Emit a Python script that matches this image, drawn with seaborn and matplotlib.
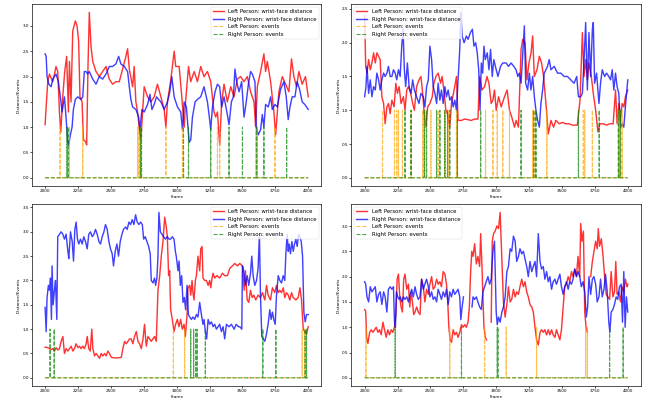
import numpy as np
import pandas as pd
import matplotlib
matplotlib.use("Agg")
import matplotlib.pyplot as plt
import seaborn as sns

nan = float("nan")

# ---------------- data (frame, value) ----------------
P1_LEFT = [(2000,1.05),(2008,1.4),(2020,1.9),(2033,2.05),(2058,1.9),(2071,2.05),(2083,2.2),(2096,2.1),(2109,1.3),(2119,0.9),(2134,1.6),(2149,2.1),(2164,2.4),(2177,1.3),(2185,2.3),(2197,1.5),(2210,2.9),(2230,3.1),(2243,3.0),(2255,2.7),(2265,1.6),(2281,1.5),(2291,0.75),(2306,0.72),(2316,0.65),(2326,2.2),(2336,3.27),(2349,2.6),(2362,2.3),(2387,2.1),(2412,2.0),(2437,2.1),(2463,2.2),(2488,1.95),(2513,1.85),(2538,1.9),(2564,1.9),(2589,2.15),(2614,2.4),(2627,2.55),(2640,2.15),(2665,1.8),(2677,2.2),(2690,1.5),(2703,1.3),(2715,1.0),(2728,0.75),(2741,1.3),(2753,1.8),(2766,1.7),(2779,1.6),(2804,1.5),(2829,1.6),(2854,1.85),(2880,1.6),(2905,1.35),(2918,1.0),(2930,1.5),(2956,1.95),(2981,2.5),(2993,2.2),(3019,2.2),(3039,1.6),(3057,1.0),(3069,1.55),(3090,2.2),(3107,1.9),(3133,2.1),(3158,1.9),(3183,2.2),(3208,2.0),(3234,2.1),(3259,1.9),(3284,1.3),(3297,1.2),(3310,1.3),(3327,0.65),(3342,1.5),(3360,1.85),(3385,1.5),(3411,1.8),(3436,1.6),(3461,1.95),(3486,2.0),(3512,1.9),(3537,2.0),(3562,1.7),(3588,1.5),(3600,1.0),(3613,1.8),(3638,2.1),(3663,2.45),(3676,2.1),(3689,2.3),(3714,1.9),(3739,1.3),(3752,0.85),(3777,1.7),(3803,2.0),(3828,1.85),(3853,1.7),(3873,2.35),(3891,2.0),(3911,1.8),(3929,2.1),(3954,1.85),(3979,2.0),(4000,1.6)]
P1_RIGHT = [(2000,2.45),(2008,2.4),(2015,2.0),(2028,1.85),(2046,1.8),(2058,1.95),(2071,2.0),(2083,2.05),(2101,1.9),(2116,1.6),(2129,1.3),(2147,1.6),(2159,1.2),(2172,0.7),(2180,0.65),(2192,0.85),(2205,1.0),(2215,1.35),(2230,1.55),(2248,1.6),(2273,1.55),(2286,1.6),(2298,2.1),(2311,2.1),(2324,2.05),(2336,2.1),(2362,1.95),(2387,1.85),(2412,2.0),(2437,1.95),(2463,2.05),(2488,2.2),(2513,2.2),(2538,2.25),(2559,2.4),(2576,2.25),(2602,2.2),(2627,2.1),(2640,1.8),(2652,1.55),(2665,1.4),(2690,1.35),(2711,1.2),(2721,0.95),(2736,1.35),(2753,1.3),(2779,1.45),(2797,1.65),(2812,1.35),(2829,1.45),(2847,1.6),(2862,1.55),(2880,1.5),(2905,1.35),(2930,1.5),(2948,1.7),(2963,2.0),(2981,1.6),(3006,1.4),(3031,1.3),(3044,0.95),(3057,1.5),(3074,1.4),(3095,0.7),(3107,0.75),(3120,1.2),(3140,1.5),(3158,1.55),(3183,1.6),(3208,1.8),(3234,1.5),(3246,1.25),(3259,0.95),(3272,1.4),(3292,1.7),(3310,1.85),(3327,1.8),(3342,1.4),(3360,1.6),(3385,1.25),(3398,1.05),(3416,1.5),(3431,1.6),(3443,2.15),(3456,1.9),(3474,1.7),(3494,1.9),(3512,1.2),(3529,1.5),(3545,1.85),(3562,2.1),(3575,2.05),(3595,1.9),(3605,1.0),(3620,0.85),(3638,0.95),(3651,1.25),(3663,1.0),(3676,1.45),(3696,1.4),(3714,1.6),(3727,1.35),(3747,1.45),(3765,1.4),(3790,1.75),(3815,1.9),(3833,1.6),(3848,1.15),(3861,1.4),(3878,1.6),(3899,1.6),(3916,1.9),(3934,1.75),(3954,1.5),(3974,1.45),(4000,1.35)]
P1_LEFT_EVENTS = [2114, 2185, 2286, 2703, 2711, 2728, 2918, 3044, 3310, 3327, 3600, 3613, 3747]
P1_RIGHT_EVENTS = [2167, 2170, 2174, 2723, 2733, 3052, 3090, 3259, 3398, 3500, 3608, 3663, 3836]

P2_LEFT = [(2000,2.4),(2008,1.65),(2018,1.55),(2030,1.75),(2043,1.6),(2055,1.7),(2068,1.85),(2081,1.7),(2093,1.85),(2106,1.8),(2118,1.75),(2131,1.2),(2144,1.1),(2156,0.8),(2169,1.05),(2181,1.1),(2194,0.95),(2207,1.15),(2224,1.05),(2237,1.4),(2249,1.25),(2262,1.35),(2277,1.1),(2295,1.2),(2307,1.0),(2320,1.3),(2333,1.35),(2350,1.25),(2365,1.1),(2378,1.0),(2395,1.35),(2413,1.45),(2428,1.5),(2441,1.25),(2453,0.95),(2466,0.75),(2479,1.05),(2496,1.1),(2514,1.2),(2526,1.4),(2542,1.5),(2559,1.55),(2577,1.4),(2589,1.5),(2605,1.25),(2617,1.0),(2630,0.95),(2647,0.75),(2660,1.1),(2680,1.3),(2698,1.5),(2710,0.85),(2736,0.85),(2761,0.87),(2786,0.86),(2811,0.85),(2836,0.87),(2861,0.87),(2874,1.5),(2892,1.3),(2912,1.35),(2930,1.5),(2945,1.4),(2962,1.1),(2975,1.15),(2987,1.3),(3000,1.0),(3018,1.2),(3038,1.05),(3063,1.2),(3083,1.3),(3101,1.0),(3118,0.9),(3139,0.75),(3151,0.85),(3169,0.75),(3189,1.9),(3202,2.05),(3219,2.0),(3234,1.45),(3249,1.7),(3265,1.85),(3277,2.1),(3290,1.5),(3310,1.6),(3328,1.8),(3345,1.7),(3360,1.5),(3378,1.1),(3396,0.65),(3416,0.85),(3436,0.75),(3453,0.85),(3479,0.8),(3504,0.82),(3529,0.8),(3554,0.8),(3579,0.78),(3617,0.78),(3637,1.15),(3655,2.15),(3668,1.5),(3680,1.75),(3693,1.45),(3705,1.7),(3723,1.5),(3738,1.25),(3756,1.0),(3773,0.68),(3788,0.8),(3814,0.8),(3839,0.78),(3864,0.8),(3889,0.8),(3907,1.3),(3919,0.8),(3932,1.1),(3945,0.85),(3957,1.1),(3970,1.05),(3982,1.2),(4000,1.3)]
P2_RIGHT = [(2000,1.2),(2010,1.35),(2018,1.65),(2030,1.25),(2043,1.45),(2055,1.2),(2068,1.35),(2081,1.3),(2093,1.55),(2106,1.45),(2118,1.3),(2131,1.45),(2144,1.55),(2156,1.5),(2169,1.55),(2181,1.65),(2194,1.5),(2207,1.5),(2219,1.6),(2232,1.55),(2244,1.45),(2257,1.6),(2270,1.5),(2282,1.95),(2292,2.2),(2302,1.6),(2312,1.35),(2325,1.7),(2338,1.35),(2353,1.25),(2365,1.45),(2378,1.3),(2395,1.2),(2413,1.1),(2428,1.25),(2446,1.2),(2458,1.05),(2471,1.35),(2484,1.45),(2496,1.95),(2509,1.75),(2521,1.35),(2534,1.25),(2547,1.1),(2559,1.4),(2572,1.15),(2584,1.3),(2597,1.1),(2610,1.35),(2622,1.2),(2635,1.3),(2647,1.15),(2660,1.2),(2673,1.05),(2685,1.15),(2698,1.0),(2710,1.45),(2723,1.9),(2731,2.45),(2741,2.1),(2756,2.0),(2773,2.1),(2786,2.05),(2804,2.15),(2819,2.2),(2831,1.95),(2844,2.0),(2856,1.85),(2867,1.6),(2877,1.0),(2887,1.7),(2897,1.55),(2907,1.95),(2917,1.75),(2932,1.85),(2945,1.6),(2957,1.9),(2970,1.5),(2982,1.75),(3000,1.6),(3013,1.5),(3033,1.65),(3050,1.7),(3076,1.7),(3093,1.65),(3113,1.7),(3134,1.65),(3151,1.6),(3164,1.5),(3176,1.55),(3189,1.4),(3202,1.85),(3214,2.25),(3224,1.4),(3239,1.3),(3252,1.55),(3264,1.3),(3277,1.5),(3290,1.2),(3302,1.0),(3315,0.85),(3328,0.75),(3340,1.1),(3353,1.3),(3365,1.55),(3378,1.6),(3390,1.65),(3403,1.75),(3416,1.6),(3441,1.65),(3466,1.55),(3491,1.55),(3516,1.5),(3542,1.5),(3567,1.45),(3592,1.4),(3612,1.5),(3625,1.2),(3642,1.2),(3655,1.25),(3668,1.75),(3680,2.3),(3693,1.3),(3705,2.15),(3718,1.5),(3731,2.2),(3738,2.3),(3748,1.4),(3763,1.55),(3781,1.1),(3793,1.4),(3806,1.6),(3824,1.5),(3839,1.55),(3856,1.5),(3869,1.45),(3882,1.6),(3894,1.3),(3907,1.55),(3919,1.35),(3932,1.25),(3945,0.75),(3957,0.8),(3970,0.75),(3982,1.05),(4000,1.45)]
P2_LEFT_EVENTS = [2136, 2227, 2244, 2257, 2287, 2353, 2441, 2458, 2504, 2559, 2610, 2640, 2698, 2705, 2919, 2975, 3008, 3050, 3101, 3277, 3295, 3385, 3662, 3673, 3731, 3927, 3940, 3957]
P2_RIGHT_EVENTS = [2307, 2353, 2453, 2471, 2547, 2572, 2610, 2630, 2647, 2705, 2882, 3189, 3285, 3302, 3625, 3783, 3932, 3945]

P3_LEFT = [(2000,0.63),(2020,0.62),(2033,0.6),(2046,0.58),(2058,0.6),(2071,0.55),(2084,0.62),(2096,0.57),(2109,0.6),(2122,0.75),(2135,0.85),(2147,0.5),(2160,0.6),(2173,0.55),(2185,0.6),(2198,0.65),(2211,0.55),(2223,0.6),(2236,0.7),(2249,0.62),(2261,0.65),(2274,0.6),(2287,0.65),(2299,0.6),(2312,0.7),(2320,0.85),(2332,0.6),(2343,0.55),(2355,1.0),(2363,0.6),(2376,0.45),(2388,0.5),(2401,0.45),(2414,0.4),(2426,0.5),(2439,0.45),(2452,0.5),(2464,0.45),(2477,0.55),(2490,0.5),(2503,0.42),(2528,0.41),(2553,0.41),(2579,0.42),(2591,0.6),(2604,0.75),(2617,0.7),(2629,0.75),(2642,0.8),(2655,0.8),(2667,0.7),(2680,0.85),(2693,0.95),(2706,0.75),(2718,0.7),(2731,0.6),(2744,0.8),(2756,1.1),(2769,0.65),(2782,0.85),(2794,0.8),(2807,0.75),(2820,0.8),(2832,0.85),(2845,0.75),(2858,1.8),(2871,2.1),(2883,2.5),(2896,2.8),(2909,3.3),(2921,3.1),(2929,2.9),(2939,2.1),(2947,2.2),(2954,1.4),(2967,1.2),(2980,0.95),(2992,1.1),(3005,1.2),(3018,1.05),(3030,1.2),(3043,1.0),(3056,1.1),(3066,0.85),(3079,1.3),(3086,1.85),(3099,1.9),(3107,1.7),(3117,2.0),(3124,1.75),(3132,1.6),(3142,2.0),(3150,2.1),(3162,2.5),(3175,2.2),(3183,2.65),(3193,2.7),(3200,2.05),(3213,2.0),(3226,2.0),(3239,1.9),(3251,2.0),(3259,1.85),(3269,2.05),(3277,2.15),(3289,2.05),(3307,2.1),(3327,2.05),(3348,2.15),(3365,2.1),(3386,2.1),(3404,2.25),(3424,2.3),(3442,2.35),(3462,2.3),(3480,2.35),(3500,2.3),(3513,1.8),(3523,2.2),(3536,1.6),(3548,1.55),(3561,1.8),(3574,1.65),(3586,1.7),(3601,1.6),(3619,1.7),(3637,1.65),(3652,1.75),(3670,1.6),(3683,1.9),(3695,1.7),(3713,1.6),(3728,1.85),(3746,1.75),(3759,1.9),(3772,1.75),(3784,1.8),(3797,1.75),(3810,1.85),(3822,1.65),(3835,1.75),(3848,1.7),(3860,1.6),(3873,1.75),(3886,1.65),(3906,1.6),(3924,1.65),(3937,1.85),(3949,1.6),(3962,1.0),(3975,0.95),(3987,0.9),(4000,1.05)]
P3_RIGHT = [(2000,1.45),(2008,0.95),(2015,1.65),(2025,1.9),(2033,1.8),(2041,2.05),(2048,1.2),(2053,2.3),(2061,1.5),(2071,1.8),(2079,2.0),(2089,1.2),(2096,2.9),(2109,2.95),(2122,3.0),(2135,2.95),(2147,2.85),(2160,2.95),(2173,2.6),(2180,2.45),(2193,3.0),(2206,2.8),(2216,2.4),(2226,3.05),(2236,3.2),(2246,2.85),(2256,2.75),(2269,2.85),(2282,2.75),(2294,2.9),(2307,2.8),(2320,2.65),(2332,2.95),(2345,3.0),(2358,2.9),(2371,2.95),(2383,3.05),(2396,2.95),(2409,2.8),(2421,2.75),(2434,2.9),(2447,3.0),(2459,3.15),(2472,3.05),(2485,2.8),(2497,2.65),(2510,2.55),(2520,2.3),(2533,2.6),(2546,2.75),(2558,2.5),(2571,2.8),(2584,2.95),(2596,3.05),(2612,3.1),(2624,3.05),(2637,3.2),(2650,3.15),(2662,3.25),(2675,3.15),(2688,3.35),(2700,3.2),(2713,3.15),(2726,3.2),(2739,3.15),(2749,2.85),(2761,2.9),(2774,2.8),(2787,2.7),(2799,2.55),(2807,2.0),(2820,1.95),(2832,2.05),(2840,1.9),(2850,2.05),(2858,2.5),(2865,3.4),(2876,3.0),(2888,2.95),(2901,2.9),(2914,2.85),(2929,2.9),(2942,2.85),(2954,2.85),(2967,2.9),(2980,2.85),(2990,2.6),(2997,2.5),(3010,2.2),(3018,2.4),(3028,1.9),(3038,2.1),(3048,1.55),(3058,1.65),(3068,1.4),(3079,1.9),(3089,1.3),(3099,1.25),(3112,1.2),(3124,1.25),(3137,1.2),(3150,1.3),(3162,1.25),(3175,1.55),(3188,1.3),(3200,1.1),(3208,1.2),(3218,0.95),(3228,0.8),(3239,1.2),(3251,1.1),(3264,1.15),(3277,1.05),(3289,1.1),(3302,1.0),(3315,1.05),(3327,1.1),(3340,0.95),(3353,1.05),(3365,0.8),(3378,1.1),(3398,1.05),(3416,1.1),(3437,1.0),(3452,1.1),(3469,1.05),(3480,1.05),(3495,1.0),(3500,2.3),(3510,2.2),(3523,1.9),(3536,2.1),(3548,1.9),(3561,2.15),(3571,2.5),(3581,2.1),(3594,1.9),(3607,2.0),(3619,2.25),(3629,2.95),(3637,1.7),(3647,0.85),(3657,0.8),(3670,0.75),(3683,0.9),(3695,1.1),(3708,1.4),(3718,1.2),(3728,1.35),(3738,1.2),(3749,1.1),(3759,1.7),(3772,2.1),(3784,2.0),(3797,1.95),(3810,2.1),(3822,2.0),(3830,2.55),(3840,2.95),(3848,2.6),(3855,2.75),(3865,2.55),(3876,2.8),(3886,2.6),(3896,2.75),(3906,2.85),(3916,2.7),(3927,2.95),(3937,2.9),(3947,2.8),(3957,2.5),(3967,1.35),(3977,1.15),(3987,1.3),(4000,1.3)]
P3_LEFT_EVENTS = [2975, 3061, 3954, 3972]
P3_RIGHT_EVENTS = [2038, 2069, 3107, 3129, 3145, 3155, 3218, 3655, 3754, 3977, 3987]

P4_LEFT = [(2000,1.35),(2008,1.32),(2015,0.8),(2025,0.68),(2038,0.9),(2050,0.95),(2063,0.9),(2076,0.95),(2088,1.0),(2101,0.9),(2113,0.95),(2126,0.85),(2139,1.1),(2151,0.95),(2164,0.8),(2176,0.95),(2189,0.85),(2202,0.95),(2214,0.9),(2227,1.0),(2237,1.25),(2247,1.95),(2257,2.05),(2267,1.6),(2277,1.4),(2287,1.3),(2297,1.95),(2307,2.05),(2320,1.75),(2333,1.85),(2343,1.4),(2353,1.7),(2363,1.5),(2373,1.25),(2383,1.3),(2395,1.4),(2408,1.3),(2421,1.25),(2433,1.95),(2446,1.8),(2458,1.5),(2471,1.75),(2484,1.65),(2496,1.85),(2509,2.0),(2521,1.75),(2534,1.8),(2547,1.95),(2559,1.85),(2572,1.9),(2584,1.8),(2597,2.1),(2610,2.05),(2622,1.85),(2630,1.6),(2640,1.0),(2650,0.75),(2660,0.7),(2673,0.95),(2685,0.85),(2698,0.9),(2710,0.8),(2723,0.9),(2736,1.05),(2748,1.0),(2761,1.05),(2773,1.0),(2786,1.1),(2796,1.4),(2804,2.0),(2814,2.5),(2824,2.4),(2836,2.65),(2849,2.25),(2861,2.4),(2874,2.2),(2882,2.85),(2892,2.2),(2899,1.6),(2907,1.0),(2917,0.8),(2927,0.75),(2940,nan),(2962,1.1),(2970,2.7),(2980,2.85),(2992,2.9),(3005,3.0),(3018,2.95),(3030,3.27),(3038,2.7),(3045,2.2),(3055,1.5),(3068,1.2),(3083,1.5),(3093,1.8),(3106,1.5),(3118,1.55),(3131,1.75),(3144,1.6),(3156,1.7),(3169,1.65),(3181,1.8),(3194,1.95),(3207,1.8),(3219,1.9),(3232,1.7),(3244,1.6),(3257,1.45),(3270,1.4),(3282,1.3),(3295,1.0),(3307,0.75),(3320,0.65),(3333,0.9),(3345,0.95),(3358,0.9),(3370,0.95),(3383,0.85),(3396,0.95),(3408,0.85),(3421,0.95),(3433,0.85),(3446,0.8),(3458,0.95),(3471,0.85),(3484,0.75),(3496,0.95),(3509,1.4),(3521,1.8),(3534,1.85),(3547,2.0),(3559,1.9),(3572,2.1),(3584,2.0),(3597,2.15),(3610,2.0),(3622,2.4),(3635,2.0),(3642,3.05),(3652,2.7),(3663,2.9),(3673,1.3),(3683,1.0),(3693,0.9),(3700,nan),(3718,2.0),(3731,2.3),(3743,2.5),(3756,2.7),(3768,2.55),(3776,2.95),(3786,2.6),(3799,2.75),(3811,2.45),(3824,2.0),(3836,1.65),(3849,1.6),(3862,1.55),(3874,2.1),(3887,1.6),(3899,1.7),(3909,2.3),(3919,1.65),(3932,1.7),(3945,1.5),(3957,1.8),(3970,1.7),(3982,1.95),(3995,1.8),(4000,1.85)]
P4_RIGHT = [(2000,1.9),(2008,1.85),(2018,1.6),(2030,1.5),(2043,1.8),(2055,1.7),(2068,1.75),(2081,1.8),(2093,1.5),(2106,1.65),(2118,1.7),(2131,1.45),(2144,1.7),(2156,1.6),(2169,1.3),(2181,1.75),(2194,1.8),(2207,1.75),(2219,1.8),(2227,1.1),(2234,1.0),(2242,1.7),(2252,1.6),(2262,1.55),(2272,1.6),(2282,1.5),(2295,1.6),(2307,1.55),(2320,1.6),(2333,1.5),(2345,1.65),(2358,1.75),(2370,1.6),(2383,1.8),(2395,1.65),(2408,1.55),(2421,1.6),(2433,1.95),(2446,1.75),(2458,1.85),(2471,1.95),(2484,1.8),(2496,1.6),(2509,1.7),(2521,1.55),(2534,1.6),(2547,1.5),(2559,1.75),(2572,1.65),(2584,1.55),(2597,1.7),(2610,1.6),(2622,1.75),(2635,1.45),(2647,1.7),(2660,1.6),(2673,1.75),(2685,1.65),(2698,1.7),(2710,1.75),(2723,1.6),(2731,1.15),(2741,1.4),(2751,1.6),(2780,nan),(2816,1.4),(2824,1.6),(2836,1.55),(2849,1.6),(2861,1.5),(2874,1.4),(2887,1.35),(2899,1.7),(2912,1.8),(2924,1.9),(2937,2.0),(2950,1.85),(2962,1.95),(2975,2.5),(2987,2.7),(3000,1.3),(3008,1.05),(3018,1.2),(3030,1.1),(3043,1.3),(3055,1.4),(3068,1.6),(3081,2.1),(3093,2.2),(3106,2.55),(3118,2.5),(3131,2.8),(3144,2.7),(3156,2.3),(3169,2.4),(3181,2.55),(3194,2.45),(3207,2.5),(3219,2.35),(3232,2.2),(3244,2.0),(3257,2.3),(3270,2.1),(3282,2.2),(3295,2.3),(3307,2.0),(3320,2.85),(3333,2.3),(3345,2.15),(3358,2.2),(3370,1.95),(3383,2.1),(3396,1.9),(3408,2.0),(3421,1.75),(3433,1.9),(3446,1.95),(3458,1.85),(3471,1.95),(3484,2.05),(3496,1.8),(3509,1.65),(3521,1.8),(3534,1.9),(3547,1.75),(3559,1.9),(3572,1.85),(3584,1.95),(3597,2.15),(3610,2.0),(3622,2.1),(3635,2.0),(3647,1.8),(3660,1.9),(3673,1.7),(3685,1.2),(3695,1.4),(3705,2.0),(3718,1.65),(3731,1.95),(3743,2.0),(3756,1.85),(3768,1.5),(3781,1.6),(3793,1.95),(3806,1.6),(3819,1.75),(3831,2.05),(3844,1.7),(3856,1.1),(3864,0.9),(3874,1.3),(3887,1.35),(3899,1.45),(3912,1.6),(3924,1.55),(3937,1.8),(3950,1.85),(3960,1.1),(3970,2.1),(3980,1.0),(3990,1.6),(4000,1.3)]
P4_LEFT_EVENTS = [2010, 2647, 2912, 3076, 3307, 3680, 3693]
P4_RIGHT_EVENTS = [2232, 2736, 3008, 3013, 3862, 3965]

FRAME_START, FRAME_END = 2000, 4000
LABELS = ["Left Person: wrist-face distance", "Right Person: wrist-face distance",
          "Left Person: events", "Right Person: events"]

# ---------------- drawing ----------------
DPI = 30
fig, axes = plt.subplots(2, 2, figsize=(652 / DPI, 406 / DPI), dpi=DPI)
fig.subplots_adjust(left=0.049, right=0.983, bottom=0.049, top=0.990,
                    wspace=0.104, hspace=0.099)

frames = np.arange(FRAME_START, FRAME_END + 1)


def segments(pairs):
    segs, cur = [], []
    for f, v in pairs:
        if np.isnan(v):
            if cur:
                segs.append(cur)
            cur = []
        else:
            cur.append((f, v))
    if cur:
        segs.append(cur)
    return segs


def draw(ax, left, right, lev, rev, loc):
    for pairs, color, label, alpha in [(left, "red", LABELS[0], 0.8),
                                       (right, "blue", LABELS[1], 0.75)]:
        for i, seg in enumerate(segments(pairs)):
            df = pd.DataFrame(seg, columns=["Frame", "Distance"])
            sns.lineplot(data=df, x="Frame", y="Distance", ax=ax, color=color,
                         alpha=alpha, lw=3.4, estimator=None, sort=False,
                         label=label if i == 0 else "_nolegend_")
    for evs, color, label in [(lev, "orange", LABELS[2]), (rev, "green", LABELS[3])]:
        df = pd.DataFrame({"Frame": frames,
                           "Event": np.isin(frames, evs).astype(float)})
        sns.lineplot(data=df, x="Frame", y="Event", ax=ax, color=color,
                     linestyle="--", lw=2.6, alpha=0.7, estimator=None,
                     label=label)
    ax.set_xlabel("Frame", fontsize=10)
    ax.set_ylabel("Distance/Events", fontsize=10.5)
    for s in ax.spines.values():
        s.set_linewidth(1.6)
    ax.tick_params(width=1.6, length=4, labelsize=10)
    ax.legend(loc=loc, fontsize=13)


draw(axes[0, 0], P1_LEFT, P1_RIGHT, P1_LEFT_EVENTS, P1_RIGHT_EVENTS, "upper right")
draw(axes[0, 1], P2_LEFT, P2_RIGHT, P2_LEFT_EVENTS, P2_RIGHT_EVENTS, "upper left")
draw(axes[1, 0], P3_LEFT, P3_RIGHT, P3_LEFT_EVENTS, P3_RIGHT_EVENTS, "upper right")
draw(axes[1, 1], P4_LEFT, P4_RIGHT, P4_LEFT_EVENTS, P4_RIGHT_EVENTS, "upper left")

fig.savefig("out.png", dpi=DPI)
